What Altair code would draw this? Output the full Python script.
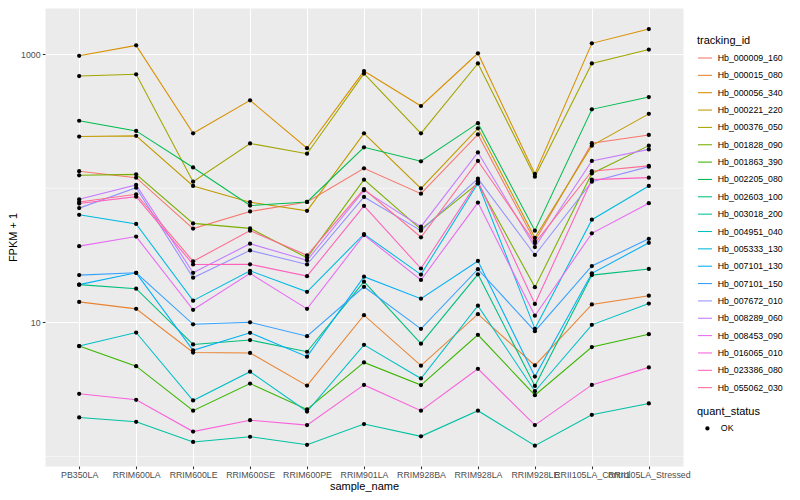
import altair as alt
import pandas as pd

samples = ["PB350LA", "RRIM600LA", "RRIM600LE", "RRIM600SE", "RRIM600PE", "RRIM901LA",
           "RRIM928BA", "RRIM928LA", "RRIM928LE", "RRII105LA_Control", "RRII105LA_Stressed"]

tracking_ids = ["Hb_000009_160", "Hb_000015_080", "Hb_000056_340", "Hb_000221_220", "Hb_000376_050",
                "Hb_001828_090", "Hb_001863_390", "Hb_002205_080", "Hb_002603_100", "Hb_003018_200",
                "Hb_004951_040", "Hb_005333_130", "Hb_007101_130", "Hb_007101_150", "Hb_007672_010",
                "Hb_008289_060", "Hb_008453_090", "Hb_016065_010", "Hb_023386_080", "Hb_055062_030"]

colors = ["#F8766D", "#EA8331", "#D89000", "#C09B00", "#A3A500", "#7CAE00", "#39B600", "#00BB4E",
          "#00BF7D", "#00C1A3", "#00BFC4", "#00BAE0", "#00B0F6", "#35A2FF", "#9590FF", "#C77CFF",
          "#E76BF3", "#FA62DB", "#FF62BC", "#FF6C91"]

# FPKM + 1 per sample (in the order of `samples`)
hb_000009_160 = [134, 120, 50.0, 67.1, 79.1, 141, 91.1, 252, 40.3, 217, 250]
hb_000015_080 = [14.2, 12.6, 5.95, 5.91, 3.37, 11.3, 4.75, 11.5, 4.77, 13.6, 15.8]
hb_000056_340 = [973, 1165, 257, 453, 199, 749, 411, 1017, 128, 1206, 1540]
hb_000221_220 = [243, 246, 104, 78.7, 67.9, 257, 99.8, 280, 42.7, 208, 359]
hb_000376_050 = [688, 708, 112, 216, 181, 717, 257, 854, 122, 854, 1083]
hb_001828_090 = [125, 127, 54.7, 50.2, 30.3, 116, 49.4, 109, 18.3, 129, 208]
hb_001863_390 = [6.65, 4.71, 2.19, 3.49, 2.24, 5.02, 3.40, 8.07, 2.86, 6.54, 8.15]
hb_002205_080 = [319, 268, 143, 74.3, 79.1, 202, 159, 306, 48.3, 388, 479]
hb_002603_100 = [19.1, 17.8, 6.84, 7.37, 6.03, 20.1, 6.93, 22.8, 3.35, 22.5, 25.0]
hb_003018_200 = [1.95, 1.81, 1.28, 1.40, 1.22, 1.74, 1.41, 2.19, 1.20, 2.04, 2.48]
hb_004951_040 = [6.65, 8.39, 2.61, 4.28, 2.16, 6.79, 3.81, 13.3, 3.06, 9.57, 13.8]
hb_005333_130 = [63.4, 54.2, 14.5, 24.2, 16.9, 45.5, 22.7, 109, 8.94, 58.3, 104]
hb_007101_130 = [19.1, 23.4, 6.18, 8.35, 5.54, 21.9, 15.0, 28.7, 3.94, 23.2, 39.2]
hb_007101_150 = [22.5, 23.4, 9.66, 10.0, 7.88, 18.4, 8.94, 24.9, 8.58, 26.3, 42.0]
hb_007672_010 = [71.1, 101, 21.5, 34.4, 27.0, 86.1, 48.3, 118, 31.8, 112, 145]
hb_008289_060 = [82.8, 106, 23.4, 38.6, 29.0, 96.5, 51.7, 185, 36.4, 160, 195]
hb_008453_090 = [37.0, 43.6, 12.4, 23.2, 12.6, 44.8, 20.7, 78.2, 11.2, 46.1, 77.4]
hb_016065_010 = [2.93, 2.64, 1.53, 1.86, 1.71, 3.41, 2.19, 4.50, 1.71, 3.41, 4.61]
hb_023386_080 = [76.9, 86.6, 27.0, 27.1, 22.1, 73.9, 25.2, 113, 13.7, 116, 120]
hb_055062_030 = [79.1, 90.2, 28.5, 48.3, 31.6, 98.6, 43.1, 160, 39.0, 134, 147]

series = [hb_000009_160, hb_000015_080, hb_000056_340, hb_000221_220, hb_000376_050,
          hb_001828_090, hb_001863_390, hb_002205_080, hb_002603_100, hb_003018_200,
          hb_004951_040, hb_005333_130, hb_007101_130, hb_007101_150, hb_007672_010,
          hb_008289_060, hb_008453_090, hb_016065_010, hb_023386_080, hb_055062_030]

major_breaks = [10, 1000]
minor_breaks = [1, 100]

rows = []
for tid, vals in zip(tracking_ids, series):
    for s, v in zip(samples, vals):
        rows.append({"tracking_id": tid, "sample_name": s, "fpkm1": v, "quant_status": "OK"})
df = pd.DataFrame(rows)

FONT = "Liberation Sans"
yscale = alt.Scale(type="log", domain=[0.847, 2213], nice=False, zero=False)

x_enc = alt.X("sample_name:N", sort=samples,
              scale=alt.Scale(type="point", padding=0.6),
              axis=alt.Axis(title="sample_name", labelAngle=0, labelOverlap=False, domain=False,
                            tickSize=2.7, tickColor="#333333", tickWidth=1.07,
                            labelColor="#4D4D4D", labelFontSize=8.8, labelPadding=2.2,
                            grid=True, gridColor="white", gridWidth=1.07,
                            titleFontSize=11, titleFontWeight="normal", titleColor="black",
                            titleY=20.5, titleBaseline="middle"))

y_enc = alt.Y("fpkm1:Q", scale=yscale,
              axis=alt.Axis(title="FPKM + 1", values=major_breaks, format="d", domain=False,
                            tickSize=2.7, tickColor="#333333", tickWidth=1.07,
                            labelColor="#4D4D4D", labelFontSize=8.8, labelPadding=2.2,
                            grid=True, gridColor="white", gridWidth=1.07,
                            titleFontSize=11, titleFontWeight="normal", titleColor="black",
                            titleAngle=270, titleX=-32, titleY=229,
                            titleAlign="center", titleBaseline="middle"))

minor = alt.Chart(pd.DataFrame({"fpkm1": minor_breaks})).mark_rule(
    color="white", strokeWidth=0.53).encode(y=alt.Y("fpkm1:Q", scale=yscale))

lines = alt.Chart(df).mark_line(strokeWidth=1.07).encode(
    x=x_enc, y=y_enc,
    color=alt.Color("tracking_id:N", scale=alt.Scale(domain=tracking_ids, range=colors),
                    legend=alt.Legend(title="tracking_id", orient="none", legendX=652, legendY=27,
                                      symbolType="stroke", symbolSize=196, symbolStrokeWidth=1.07,
                                      labelFontSize=8.8, labelColor="black", labelOffset=4.7,
                                      titleFontSize=11, titleFontWeight="normal", titleColor="black",
                                      titlePadding=4, rowPadding=4.35, padding=0)),
    detail="tracking_id:N",
)

points = alt.Chart(df).mark_point(filled=True, color="black", size=18, opacity=1).encode(
    x=x_enc, y=y_enc,
    shape=alt.Shape("quant_status:N", scale=alt.Scale(domain=["OK"], range=["circle"]),
                    legend=alt.Legend(title="quant_status", orient="none", legendX=652, legendY=398,
                                      symbolFillColor="black", symbolStrokeColor="black",
                                      symbolSize=18, symbolOffset=6, labelOffset=9,
                                      labelFontSize=8.8, labelColor="black",
                                      titleFontSize=11, titleFontWeight="normal", titleColor="black",
                                      titlePadding=7, padding=0)),
)

chart = alt.layer(minor, lines, points).properties(
    width=638, height=458,
    padding={"left": 37, "top": 0, "right": 109, "bottom": 26},
    autosize=alt.AutoSizeParams(type="none"),
).configure(font=FONT, background="white").configure_view(fill="#EBEBEB", stroke="transparent")

chart.save("out.html", embed_options={"renderer": "svg", "actions": False})
